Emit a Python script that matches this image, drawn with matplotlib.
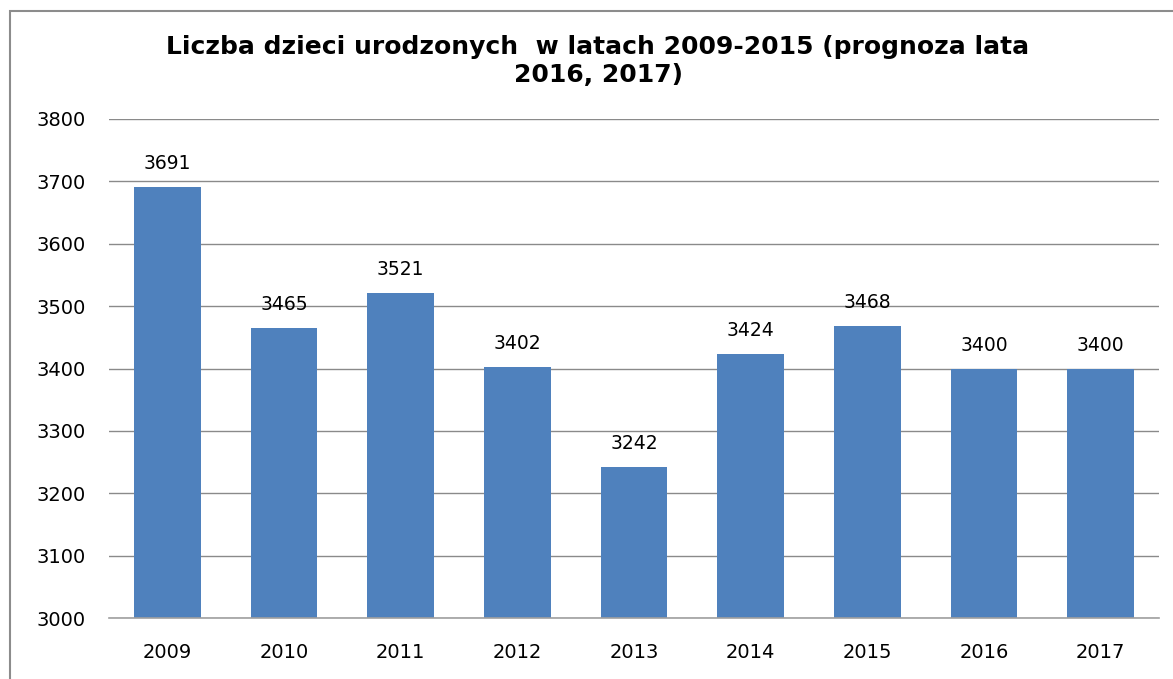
import matplotlib
matplotlib.use('Agg')
import matplotlib.pyplot as plt
from matplotlib.patches import Rectangle

years = ['2009', '2010', '2011', '2012', '2013', '2014', '2015', '2016', '2017']
births = [3691, 3465, 3521, 3402, 3242, 3424, 3468, 3400, 3400]

plt.rcParams['font.family'] = ['DejaVu Sans']

fig = plt.figure(figsize=(11.73, 6.79), dpi=100)
ax = fig.add_axes([109/1173, 1 - 618/679, (1159 - 109)/1173, (618 - 119)/679])

# outer chart frame (cut off at right and bottom like the screenshot)
fig.patches.append(Rectangle((10/1173, -0.05), 1.2, 1 - 11/679 + 0.05,
                             transform=fig.transFigure, fill=False,
                             edgecolor='#8c8c8c', linewidth=1.5))

x = range(len(years))
bars = ax.bar(x, births, width=0.57, color='#4f81bd', zorder=2)

for xi, v in zip(x, births):
    ax.annotate(str(v), (xi, v), xytext=(0, 10), textcoords='offset points',
                ha='center', va='bottom', fontsize=13.5)

ax.set_ylim(3000, 3800)
ax.set_xlim(-0.5, len(years) - 0.5)
ax.set_yticks(range(3000, 3801, 100))
ax.set_xticks(list(x))
ax.set_xticklabels(years)
ax.yaxis.grid(True, color='#8a8a8a', linewidth=1)
ax.set_axisbelow(True)
for s in ['top', 'right', 'left']:
    ax.spines[s].set_visible(False)
ax.spines['bottom'].set_color('#a0a0a0')
ax.spines['bottom'].set_linewidth(1.2)
ax.tick_params(axis='both', length=0, labelsize=14)
ax.tick_params(axis='y', pad=17)
ax.tick_params(axis='x', pad=18)

fig.text(598/1173, 1 - 61/679, 'Liczba dzieci urodzonych  w latach 2009-2015 (prognoza lata\n2016, 2017)',
         ha='center', va='center', fontsize=18, fontweight='bold', linespacing=1.25)

fig.savefig('out.png', dpi=100)
